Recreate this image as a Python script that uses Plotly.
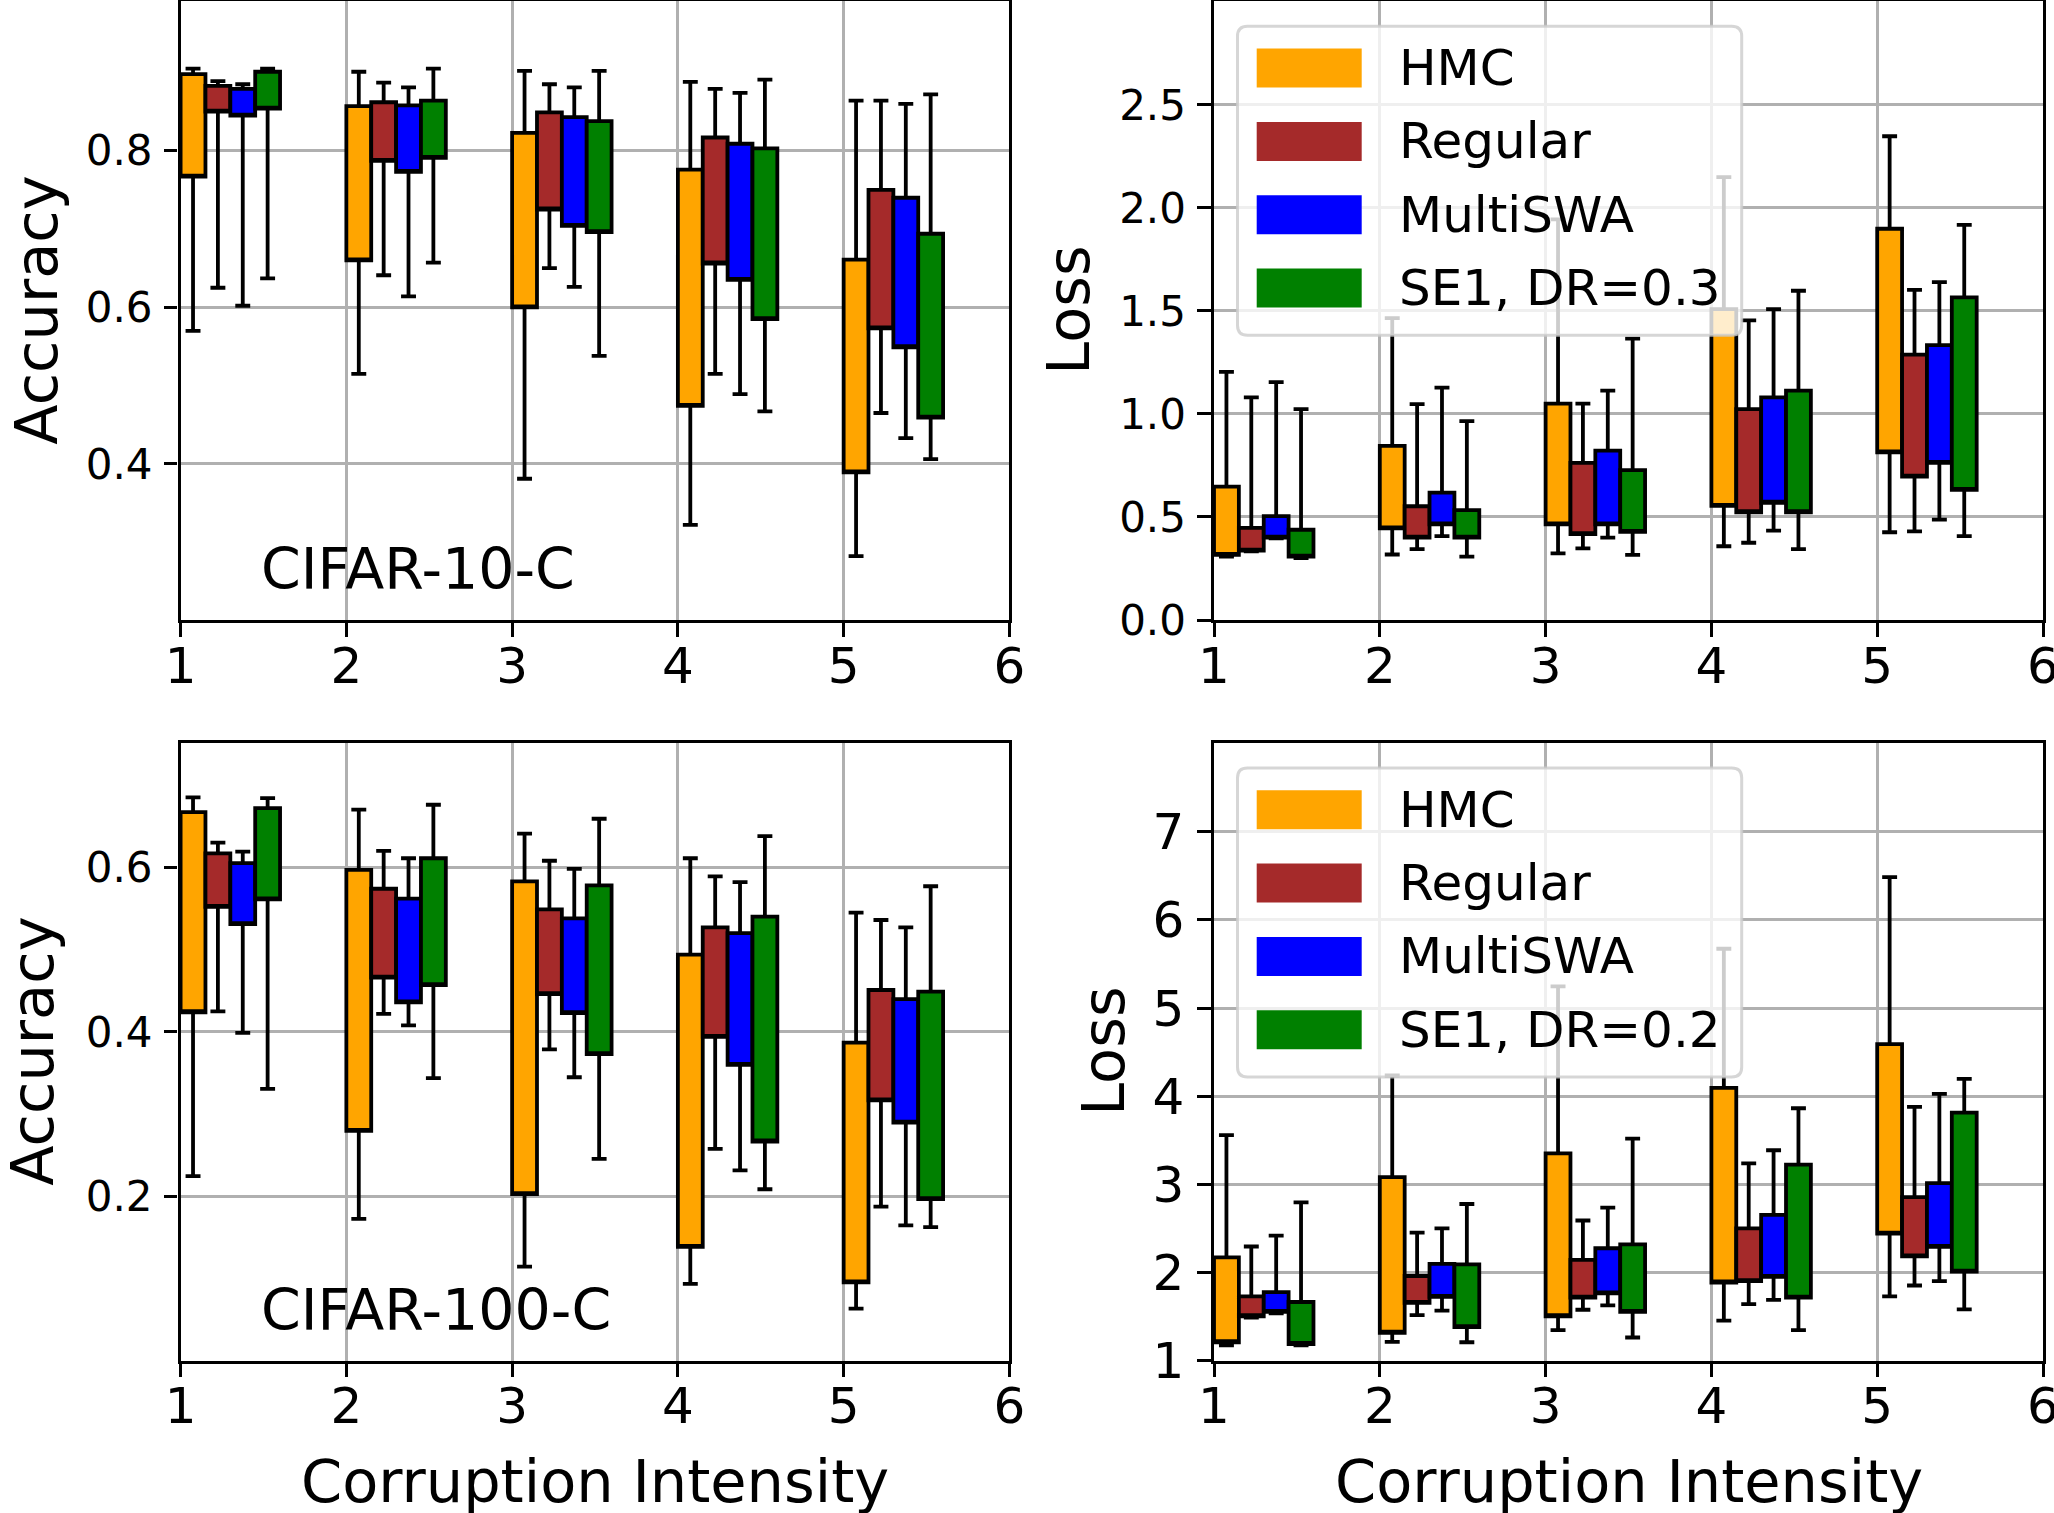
import plotly.graph_objects as go

W, H = 2054, 1513

intensities = [1, 2, 3, 4, 5]
methods = ["HMC", "Regular", "MultiSWA", "SE1"]
colors = {"HMC": "#FFA500", "Regular": "#A52A2A", "MultiSWA": "#0000FF", "SE1": "#008000"}
legend_top = ["HMC", "Regular", "MultiSWA", "SE1, DR=0.3"]
legend_bottom = ["HMC", "Regular", "MultiSWA", "SE1, DR=0.2"]

# ---- CIFAR-10-C accuracy ----
c10_acc_upper = {"HMC": [0.905, 0.901, 0.902, 0.888, 0.864], "Regular": [0.889, 0.887, 0.885, 0.879, 0.864],
                 "MultiSWA": [0.885, 0.881, 0.881, 0.874, 0.860], "SE1": [0.905, 0.905, 0.902, 0.891, 0.872]}
c10_acc_q3 = {"HMC": [0.898, 0.857, 0.823, 0.776, 0.661], "Regular": [0.883, 0.862, 0.849, 0.817, 0.750],
              "MultiSWA": [0.879, 0.858, 0.843, 0.809, 0.740], "SE1": [0.901, 0.864, 0.838, 0.803, 0.694]}
c10_acc_q1 = {"HMC": [0.767, 0.660, 0.600, 0.474, 0.389], "Regular": [0.850, 0.787, 0.725, 0.656, 0.573],
              "MultiSWA": [0.845, 0.773, 0.704, 0.635, 0.549], "SE1": [0.854, 0.791, 0.696, 0.585, 0.459]}
c10_acc_lower = {"HMC": [0.570, 0.515, 0.381, 0.322, 0.282], "Regular": [0.625, 0.641, 0.650, 0.515, 0.465],
                 "MultiSWA": [0.602, 0.614, 0.626, 0.489, 0.433], "SE1": [0.637, 0.657, 0.538, 0.467, 0.406]}

# ---- CIFAR-10-C loss ----
c10_loss_upper = {"HMC": [1.204, 1.465, 1.945, 2.150, 2.348], "Regular": [1.081, 1.048, 1.050, 1.454, 1.602],
                  "MultiSWA": [1.155, 1.128, 1.113, 1.509, 1.640], "SE1": [1.024, 0.965, 1.366, 1.598, 1.918]}
c10_loss_q3 = {"HMC": [0.647, 0.845, 1.050, 1.509, 1.899], "Regular": [0.447, 0.552, 0.763, 1.024, 1.288],
               "MultiSWA": [0.504, 0.618, 0.822, 1.081, 1.334], "SE1": [0.438, 0.533, 0.727, 1.113, 1.566]}
c10_loss_q1 = {"HMC": [0.316, 0.445, 0.464, 0.554, 0.814], "Regular": [0.337, 0.400, 0.417, 0.523, 0.696],
               "MultiSWA": [0.400, 0.464, 0.464, 0.569, 0.763], "SE1": [0.308, 0.400, 0.428, 0.523, 0.632]}
c10_loss_lower = {"HMC": [0.308, 0.318, 0.323, 0.358, 0.426], "Regular": [0.333, 0.344, 0.348, 0.375, 0.430],
                  "MultiSWA": [0.396, 0.407, 0.400, 0.434, 0.487], "SE1": [0.301, 0.308, 0.316, 0.344, 0.407]}

# ---- CIFAR-100-C accuracy ----
c100_acc_upper = {"HMC": [0.685, 0.670, 0.641, 0.611, 0.545], "Regular": [0.630, 0.620, 0.608, 0.589, 0.536],
                  "MultiSWA": [0.619, 0.611, 0.598, 0.582, 0.527], "SE1": [0.684, 0.676, 0.659, 0.638, 0.577]}
c100_acc_q3 = {"HMC": [0.667, 0.597, 0.583, 0.494, 0.387], "Regular": [0.617, 0.574, 0.549, 0.527, 0.451],
               "MultiSWA": [0.605, 0.562, 0.538, 0.520, 0.440], "SE1": [0.672, 0.611, 0.578, 0.540, 0.449]}
c100_acc_q1 = {"HMC": [0.424, 0.280, 0.203, 0.139, 0.096], "Regular": [0.552, 0.466, 0.446, 0.394, 0.317],
               "MultiSWA": [0.531, 0.436, 0.423, 0.360, 0.290], "SE1": [0.561, 0.457, 0.373, 0.267, 0.197]}
c100_acc_lower = {"HMC": [0.225, 0.173, 0.115, 0.094, 0.064], "Regular": [0.425, 0.422, 0.379, 0.258, 0.188],
                  "MultiSWA": [0.399, 0.408, 0.345, 0.232, 0.165], "SE1": [0.331, 0.344, 0.246, 0.209, 0.163]}

# ---- CIFAR-100-C loss ----
c100_loss_upper = {"HMC": [3.558, 4.237, 5.245, 5.673, 6.485], "Regular": [2.294, 2.451, 2.589, 3.238, 3.878],
                   "MultiSWA": [2.417, 2.500, 2.736, 3.386, 4.025], "SE1": [2.795, 2.776, 3.518, 3.863, 4.197]}
c100_loss_q3 = {"HMC": [2.171, 3.081, 3.351, 4.094, 4.591], "Regular": [1.728, 1.959, 2.141, 2.500, 2.854],
                "MultiSWA": [1.777, 2.097, 2.274, 2.653, 3.012], "SE1": [1.664, 2.092, 2.318, 3.223, 3.814]}
c100_loss_q1 = {"HMC": [1.207, 1.315, 1.502, 1.885, 2.441], "Regular": [1.502, 1.654, 1.713, 1.900, 2.181],
                "MultiSWA": [1.551, 1.723, 1.762, 1.949, 2.289], "SE1": [1.187, 1.379, 1.551, 1.713, 2.008]}
c100_loss_lower = {"HMC": [1.172, 1.212, 1.344, 1.453, 1.728], "Regular": [1.487, 1.516, 1.576, 1.639, 1.851],
                   "MultiSWA": [1.536, 1.566, 1.625, 1.689, 1.900], "SE1": [1.172, 1.207, 1.261, 1.344, 1.580]}

x_ticks = [1, 2, 3, 4, 5, 6]
c10_acc_ticks = [0.4, 0.6, 0.8]
c10_loss_ticks = [0.0, 0.5, 1.0, 1.5, 2.0, 2.5]
c100_acc_ticks = [0.2, 0.4, 0.6]
c100_loss_ticks = [1, 2, 3, 4, 5, 6, 7]

BOX_W = 0.15
FONT = "DejaVu Sans"

fig = go.Figure()

panels = [
    ("x", "y", c10_acc_upper, c10_acc_q3, c10_acc_q1, c10_acc_lower),
    ("x2", "y2", c10_loss_upper, c10_loss_q3, c10_loss_q1, c10_loss_lower),
    ("x3", "y3", c100_acc_upper, c100_acc_q3, c100_acc_q1, c100_acc_lower),
    ("x4", "y4", c100_loss_upper, c100_loss_q3, c100_loss_q1, c100_loss_lower),
]

for xa, ya, up, q3, q1, lo in panels:
    for i, m in enumerate(methods):
        pos = [k + BOX_W / 2 + BOX_W * i for k in intensities]
        fig.add_trace(go.Box(
            x=pos, q1=q1[m], median=q1[m], q3=q3[m],
            lowerfence=lo[m], upperfence=up[m],
            width=BOX_W, whiskerwidth=0.6,
            fillcolor=colors[m], line=dict(color="black", width=3.8),
            boxpoints=False, name=m, showlegend=False,
            xaxis=xa, yaxis=ya, hoverinfo="skip",
        ))

# axes geometry (pixels)
left_px = (180.6, 1009.4)
right_px = (1214.0, 2043.0)
top_px = (1.3, 620.0)
bot_px = (743.0, 1360.5)

def xdom(p):
    return [p[0] / W, p[1] / W]

def ydom(p):
    return [1 - p[1] / H, 1 - p[0] / H]

axis_common = dict(
    showline=True, linecolor="black", linewidth=3.3, mirror=True,
    ticks="outside", ticklen=13.5, tickwidth=3.3, tickcolor="black",
    showgrid=True, gridcolor="#b0b0b0", gridwidth=2.7, zeroline=False,
    automargin=False, ticklabeloverflow="allow",
)

def xaxis_cfg(p, anchor):
    return dict(axis_common, domain=xdom(p), anchor=anchor, range=[1, 6],
                tickvals=x_ticks, ticktext=[str(t) for t in x_ticks],
                tickfont=dict(family=FONT, size=50, color="black"), ticklabelstandoff=-14)

def yaxis_cfg(p, anchor, rng, ticks, fmt, size):
    return dict(axis_common, domain=ydom(p), anchor=anchor, range=rng,
                tickvals=ticks, ticktext=[fmt.format(t) for t in ticks],
                tickfont=dict(family=FONT, size=size, color="black"), ticklabelstandoff=3)

fig.update_layout(
    width=W, height=H, margin=dict(l=0, r=0, t=0, b=0, autoexpand=False),
    paper_bgcolor="white", plot_bgcolor="white",
    boxmode="overlay", showlegend=False,
    font=dict(family=FONT, color="black"),
    xaxis=xaxis_cfg(left_px, "y"),
    yaxis=yaxis_cfg(top_px, "x", [0.2005, 0.991], c10_acc_ticks, "{:.1f}", 42),
    xaxis2=xaxis_cfg(right_px, "y2"),
    yaxis2=yaxis_cfg(top_px, "x2", [0.0, 3.003], c10_loss_ticks, "{:.1f}", 42),
    xaxis3=xaxis_cfg(left_px, "y3"),
    yaxis3=yaxis_cfg(bot_px, "x3", [0.001, 0.751], c100_acc_ticks, "{:.1f}", 42),
    xaxis4=xaxis_cfg(right_px, "y4"),
    yaxis4=yaxis_cfg(bot_px, "x4", [1.0, 8.008], c100_loss_ticks, "{:d}", 50),
)

def px(xp, yp):
    return xp / W, 1 - yp / H

annotations = []
shapes = []

def text(xp, yp, s, size, xanchor="center", angle=0):
    x, y = px(xp, yp)
    annotations.append(dict(x=x, y=y, xref="paper", yref="paper", text=s, showarrow=False,
                            xanchor=xanchor, yanchor="middle", textangle=angle,
                            font=dict(family=FONT, size=size, color="black")))

# axis titles
text(37, (top_px[0] + top_px[1]) / 2, "Accuracy", 59, angle=-90)
text(33, (bot_px[0] + bot_px[1]) / 2, "Accuracy", 59, angle=-90)
text(1069, (top_px[0] + top_px[1]) / 2, "Loss", 59, angle=-90)
text(1104, (bot_px[0] + bot_px[1]) / 2, "Loss", 59, angle=-90)
text((left_px[0] + left_px[1]) / 2, 1481, "Corruption Intensity", 59)
text((right_px[0] + right_px[1]) / 2, 1481, "Corruption Intensity", 59)

# dataset labels
text(left_px[0] + 78, top_px[0] + 568, "CIFAR-10-C", 57, xanchor="left")
text(left_px[0] + 78, bot_px[0] + 567, "CIFAR-100-C", 57, xanchor="left")

def rounded_rect(x0, y0, x1, y1, r):
    def P(a, b):
        x, y = px(a, b)
        return f"{x:.6f},{y:.6f}"
    return (f"M{P(x0 + r, y0)} L{P(x1 - r, y0)} Q{P(x1, y0)} {P(x1, y0 + r)} "
            f"L{P(x1, y1 - r)} Q{P(x1, y1)} {P(x1 - r, y1)} "
            f"L{P(x0 + r, y1)} Q{P(x0, y1)} {P(x0, y1 - r)} "
            f"L{P(x0, y0 + r)} Q{P(x0, y0)} {P(x0 + r, y0)} Z")

def custom_legend(ax_left, ax_top, labels):
    shapes.append(dict(type="path", xref="paper", yref="paper", layer="above",
                       path=rounded_rect(ax_left + 23.5, ax_top + 25, ax_left + 527.7, ax_top + 334, 10),
                       fillcolor="rgba(255,255,255,0.8)", line=dict(color="rgba(204,204,204,0.8)", width=3)))
    for i, (m, lab) in enumerate(zip(methods, labels)):
        cy = ax_top + 66.8 + 73.3 * i
        xa, ya = px(ax_left + 42.7, cy + 19.5)
        xb, yb = px(ax_left + 147.7, cy - 19.5)
        shapes.append(dict(type="rect", xref="paper", yref="paper", layer="above",
                           x0=xa, y0=ya, x1=xb, y1=yb, fillcolor=colors[m], line=dict(width=0)))
        text(ax_left + 183, cy, lab, 50, xanchor="left")

custom_legend(right_px[0], top_px[0], legend_top)
custom_legend(right_px[0], bot_px[0], legend_bottom)

fig.update_layout(annotations=annotations, shapes=shapes)
fig.write_html("out.html")
